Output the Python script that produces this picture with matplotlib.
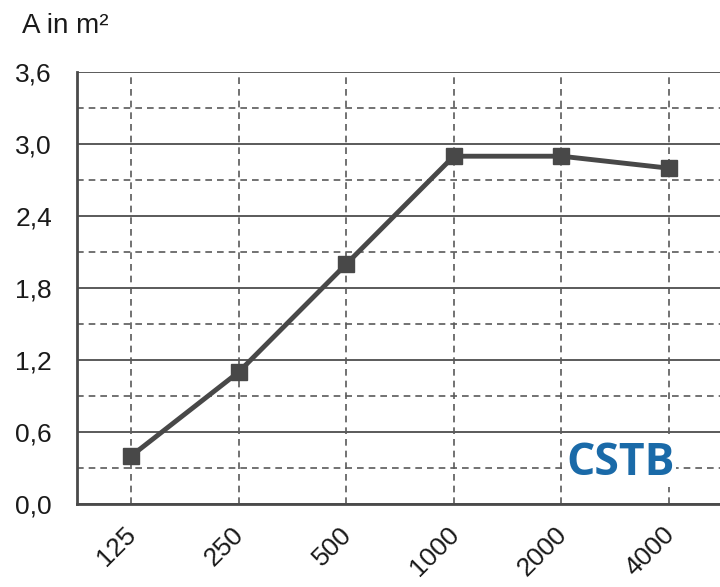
import matplotlib
matplotlib.use("Agg")
import matplotlib.pyplot as plt
import matplotlib.transforms as mtransforms
import numpy as np

plt.rcParams['font.family'] = ['Liberation Sans', 'DejaVu Sans']

categories = ["125", "250", "500", "1000", "2000", "4000"]
values = [0.40, 1.10, 2.00, 2.90, 2.90, 2.80]
yticks = [0.0, 0.6, 1.2, 1.8, 2.4, 3.0, 3.6]
ytick_labels = ["0,0", "0,6", "1,2", "1,8", "2,4", "3,0", "3,6"]

fig = plt.figure(figsize=(7.2, 5.87), dpi=100)
ax = fig.add_axes([0.107, 0.141, 0.897, 0.736])

x = np.arange(len(categories))
ax.set_xlim(-0.5, len(categories) - 0.5)
ax.set_ylim(0, 3.6)

# grid
for yv in yticks:
    ax.axhline(yv, color="#5a5a5a", lw=1.4, zorder=1)
for yv in np.arange(0.3, 3.6, 0.6):
    ax.axhline(yv, color="#5a5a5a", lw=1.2, ls=(0, (4, 3)), zorder=1)
for xv in x:
    ax.axvline(xv, color="#5a5a5a", lw=1.2, ls=(0, (4, 3)), zorder=1)

ax.plot(x, values, color="#484848", lw=3.5, marker="s", markersize=11,
        markerfacecolor="#484848", markeredgecolor="#484848", zorder=3,
        clip_on=False)

for s in ["top", "right"]:
    ax.spines[s].set_visible(False)
ax.spines["left"].set_color("#4a4a4a")
ax.spines["left"].set_linewidth(2)
ax.spines["bottom"].set_color("#4a4a4a")
ax.spines["bottom"].set_linewidth(2)

ax.set_yticks(yticks)
ax.set_yticklabels(ytick_labels, fontsize=19, color="#1a1a1a")
ax.set_xticks(x)
ax.set_xticklabels(categories, fontsize=19, color="#1a1a1a", rotation=45,
                   ha="right", rotation_mode="anchor")
ax.tick_params(axis="both", length=0)
ax.tick_params(axis="y", pad=18)
ax.tick_params(axis="x", pad=13)
offset = mtransforms.ScaledTranslation(-7 / 100, 0, fig.dpi_scale_trans)
for lbl in ax.get_xticklabels():
    lbl.set_transform(lbl.get_transform() + offset)

fig.text(0.03, 0.955, "A in m²", fontsize=20, color="#1a1a1a", va="center", ha="left")

# logo
ax.text(0.842, 0.095, "CSTB", transform=ax.transAxes, fontsize=32,
        fontweight="bold", color="#1a6aa8", ha="center", va="center",
        family=["Open Sans", "DejaVu Sans"], zorder=4,
        bbox=dict(facecolor="white", edgecolor="none", pad=1))

fig.savefig("out.png", dpi=100)
